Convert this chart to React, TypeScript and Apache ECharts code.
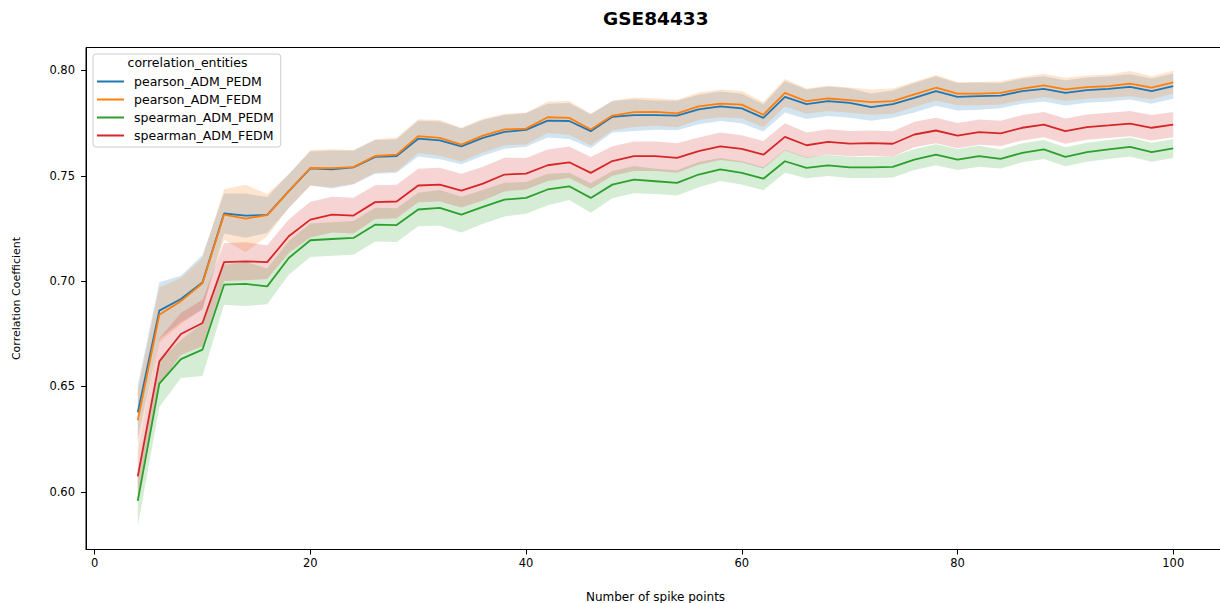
import React, { useEffect, useRef } from "react";
import * as echarts from "echarts";

const xs = [4, 6, 8, 10, 12, 14, 16, 18, 20, 22, 24, 26, 28, 30, 32, 34, 36, 38, 40, 42, 44, 46, 48, 50, 52, 54, 56, 58, 60, 62, 64, 66, 68, 70, 72, 74, 76, 78, 80, 82, 84, 86, 88, 90, 92, 94, 96, 98, 100];

const seriesNames = ["pearson_ADM_PEDM", "pearson_ADM_FEDM", "spearman_ADM_PEDM", "spearman_ADM_FEDM"];
const colors = ["#1f77b4", "#ff7f0e", "#2ca02c", "#d62728"];

const pearsonPEDM = [0.6377, 0.686, 0.6915, 0.6994, 0.7321, 0.7311, 0.7314, 0.7427, 0.7535, 0.753, 0.754, 0.759, 0.7594, 0.7676, 0.7668, 0.764, 0.768, 0.7708, 0.7718, 0.7762, 0.776, 0.7712, 0.778, 0.7788, 0.7788, 0.7786, 0.7815, 0.783, 0.782, 0.7775, 0.7875, 0.784, 0.7854, 0.7846, 0.7826, 0.784, 0.787, 0.7902, 0.7875, 0.7878, 0.7881, 0.7902, 0.7913, 0.7894, 0.7907, 0.7913, 0.7922, 0.7902, 0.7926];
const pearsonFEDM = [0.6339, 0.684, 0.6905, 0.699, 0.7316, 0.7297, 0.7313, 0.7427, 0.7537, 0.7536, 0.7541, 0.7594, 0.76, 0.7688, 0.768, 0.7648, 0.7691, 0.772, 0.7724, 0.7778, 0.7775, 0.772, 0.7786, 0.7802, 0.7803, 0.7796, 0.783, 0.7843, 0.7838, 0.779, 0.7894, 0.7854, 0.7867, 0.7859, 0.785, 0.7854, 0.7886, 0.7918, 0.789, 0.789, 0.7894, 0.7914, 0.7929, 0.791, 0.7921, 0.7926, 0.7938, 0.7918, 0.7944];
const spearmanPEDM = [0.5957, 0.6513, 0.663, 0.6675, 0.6983, 0.6987, 0.6975, 0.711, 0.7194, 0.72, 0.7205, 0.7268, 0.7266, 0.734, 0.7348, 0.7316, 0.7352, 0.7387, 0.7395, 0.7435, 0.745, 0.7395, 0.7458, 0.7482, 0.7474, 0.7466, 0.7506, 0.753, 0.7514, 0.7486, 0.7569, 0.7538, 0.7549, 0.754, 0.754, 0.7542, 0.7577, 0.76, 0.7577, 0.7593, 0.758, 0.7609, 0.7625, 0.759, 0.7612, 0.7625, 0.7637, 0.7612, 0.763];
const spearmanFEDM = [0.6073, 0.6619, 0.6749, 0.6801, 0.709, 0.7094, 0.709, 0.7213, 0.7292, 0.7316, 0.7311, 0.7375, 0.7378, 0.7454, 0.7458, 0.743, 0.7463, 0.7506, 0.751, 0.755, 0.7564, 0.7514, 0.757, 0.7593, 0.7593, 0.7585, 0.7617, 0.764, 0.7628, 0.76, 0.7685, 0.7645, 0.7661, 0.7653, 0.7655, 0.7652, 0.7696, 0.7715, 0.7691, 0.7707, 0.7701, 0.7728, 0.7743, 0.7712, 0.7731, 0.7739, 0.7748, 0.7728, 0.7743];

// 95% CI half-widths
const ciPearsonPEDM = [0.013, 0.0135, 0.011, 0.013, 0.0095, 0.0105, 0.0085, 0.008, 0.008, 0.009, 0.008, 0.008, 0.008, 0.0085, 0.009, 0.0085, 0.0085, 0.008, 0.008, 0.008, 0.0085, 0.008, 0.0075, 0.0075, 0.007, 0.007, 0.007, 0.007, 0.007, 0.0065, 0.0075, 0.007, 0.007, 0.007, 0.0065, 0.0065, 0.007, 0.007, 0.0065, 0.0065, 0.006, 0.006, 0.006, 0.006, 0.006, 0.006, 0.006, 0.006, 0.006];
const ciPearsonFEDM = [0.014, 0.013, 0.011, 0.012, 0.012, 0.016, 0.01, 0.008, 0.0085, 0.009, 0.008, 0.008, 0.008, 0.008, 0.0085, 0.008, 0.008, 0.0075, 0.0075, 0.0075, 0.008, 0.0075, 0.007, 0.007, 0.0065, 0.0065, 0.0065, 0.0065, 0.0065, 0.006, 0.0065, 0.006, 0.006, 0.006, 0.006, 0.006, 0.006, 0.006, 0.0055, 0.0055, 0.0055, 0.0055, 0.0055, 0.0055, 0.0055, 0.0055, 0.006, 0.0055, 0.0055];
const ciSpearmanPEDM = [0.012, 0.011, 0.009, 0.0125, 0.0095, 0.0105, 0.0085, 0.008, 0.008, 0.008, 0.008, 0.008, 0.008, 0.008, 0.0085, 0.0085, 0.008, 0.008, 0.0075, 0.0075, 0.0065, 0.007, 0.0065, 0.0065, 0.006, 0.006, 0.006, 0.0055, 0.0055, 0.0055, 0.0055, 0.005, 0.005, 0.005, 0.005, 0.005, 0.005, 0.005, 0.005, 0.005, 0.0045, 0.0045, 0.0045, 0.0045, 0.0045, 0.0045, 0.0045, 0.0045, 0.0045];
const ciSpearmanFEDM = [0.012, 0.011, 0.01, 0.011, 0.009, 0.009, 0.008, 0.008, 0.0085, 0.0085, 0.0085, 0.008, 0.008, 0.008, 0.008, 0.008, 0.008, 0.008, 0.0075, 0.0075, 0.0075, 0.0075, 0.007, 0.007, 0.007, 0.007, 0.0065, 0.0065, 0.0065, 0.0065, 0.0065, 0.006, 0.006, 0.006, 0.006, 0.006, 0.006, 0.006, 0.006, 0.006, 0.006, 0.006, 0.006, 0.006, 0.006, 0.006, 0.006, 0.006, 0.006];

const xTicks = [0, 20, 40, 60, 80, 100];
const yTicks = [0.6, 0.65, 0.7, 0.75, 0.8];

const FONT = "DejaVu Sans";

export default function App() {
  const ref = useRef<HTMLDivElement>(null);
  useEffect(() => {
    if (!ref.current) return;
    const chart = echarts.init(ref.current, null, { renderer: "svg" });
    const means = [pearsonPEDM, pearsonFEDM, spearmanPEDM, spearmanFEDM];
    const cis = [ciPearsonPEDM, ciPearsonFEDM, ciSpearmanPEDM, ciSpearmanFEDM];
    const series: any[] = [];
    means.forEach((m, i) => {
      const h = cis[i];
      const lo = xs.map((x, j) => m[j] - h[j]);
      const hi = xs.map((x, j) => m[j] + h[j]);
      series.push({
        type: "custom",
        name: seriesNames[i] + " 95% CI",
        data: xs.map((x, j) => [x, lo[j], hi[j]]),
        encode: { x: 0, y: [1, 2] },
        silent: true,
        z: 1,
        renderItem: (params: any, api: any) => {
          if (params.dataIndex !== 0) return null;
          const pts: number[][] = [];
          for (let j = 0; j < xs.length; j++) pts.push(api.coord([xs[j], hi[j]]));
          for (let j = xs.length - 1; j >= 0; j--) pts.push(api.coord([xs[j], lo[j]]));
          return {
            type: "polygon",
            shape: { points: pts },
            style: { fill: colors[i], opacity: 0.2, stroke: "none" },
          };
        },
      });
    });
    means.forEach((m, i) => {
      series.push({
        type: "line",
        name: seriesNames[i],
        data: xs.map((x, j) => [x, m[j]]),
        symbol: "none",
        lineStyle: { color: colors[i], width: 1.8 },
        itemStyle: { color: colors[i] },
        z: 3,
      });
    });

    chart.setOption({
      animation: false,
      backgroundColor: "#ffffff",
      grid: {
        left: 86,
        top: 47.5,
        width: 1139,
        height: 502,
        show: true,
        borderColor: "#000",
        borderWidth: 1,
        backgroundColor: "transparent",
        outerBoundsMode: "none",
        containLabel: false,
      },
      xAxis: {
        type: "value",
        min: -0.8,
        max: 104.8,
        name: "Number of spike points",
        nameLocation: "middle",
        nameGap: 41,
        nameTextStyle: { fontFamily: FONT, fontSize: 12, color: "#000" },
        axisLine: { show: true, onZero: false, lineStyle: { color: "#000", width: 1 } },
        axisTick: { show: true, length: 5, lineStyle: { color: "#000" }, customValues: xTicks },
        axisLabel: {
          customValues: xTicks,
          margin: 7,
          fontFamily: FONT,
          fontSize: 11.5,
          color: "#000",
        },
        splitLine: { show: false },
      },
      yAxis: {
        type: "value",
        min: 0.5726,
        max: 0.8109,
        name: "Correlation Coefficient",
        nameLocation: "middle",
        nameGap: 64,
        nameRotate: 90,
        nameTextStyle: { fontFamily: FONT, fontSize: 11, color: "#000" },
        axisLine: { show: true, onZero: false, lineStyle: { color: "#000", width: 1 } },
        axisTick: { show: true, length: 5, lineStyle: { color: "#000" }, customValues: yTicks },
        axisLabel: {
          customValues: yTicks,
          margin: 11,
          fontFamily: FONT,
          fontSize: 11.5,
          color: "#000",
          formatter: (v: number) => v.toFixed(2),
        },
        splitLine: { show: false },
      },
      legend: {
        show: true,
        data: seriesNames,
        orient: "vertical",
        left: 93,
        top: 54,
        padding: [21, 7, 5, 4],
        itemWidth: 27,
        itemHeight: 2,
        itemGap: 5,
        icon: "rect",
        borderColor: "#cccccc",
        borderWidth: 1,
        borderRadius: 3,
        backgroundColor: "rgba(255,255,255,0.8)",
        textStyle: {
          fontFamily: FONT,
          fontSize: 12.5,
          lineHeight: 12.4,
          color: "#000",
          padding: [0, 0, 0, 5],
        },
        selectedMode: false,
      },
      graphic: [
        {
          type: "text",
          left: 655 - 52,
          top: 9,
          style: {
            text: "GSE84433",
            fontFamily: FONT,
            fontSize: 18.5,
            fontWeight: "bold",
            fill: "#000",
          },
          z: 10,
        },
        {
          type: "text",
          x: 187.5,
          y: 62.7,
          style: {
            text: "correlation_entities",
            fontFamily: FONT,
            fontSize: 12.5,
            fill: "#000",
            align: "center",
            verticalAlign: "middle",
          },
          z: 20,
        },
      ],
      series,
    });
    return () => chart.dispose();
  }, []);
  return <div ref={ref} style={{ position: "absolute", left: 0, top: 0, width: 1220, height: 603 }} />;
}
